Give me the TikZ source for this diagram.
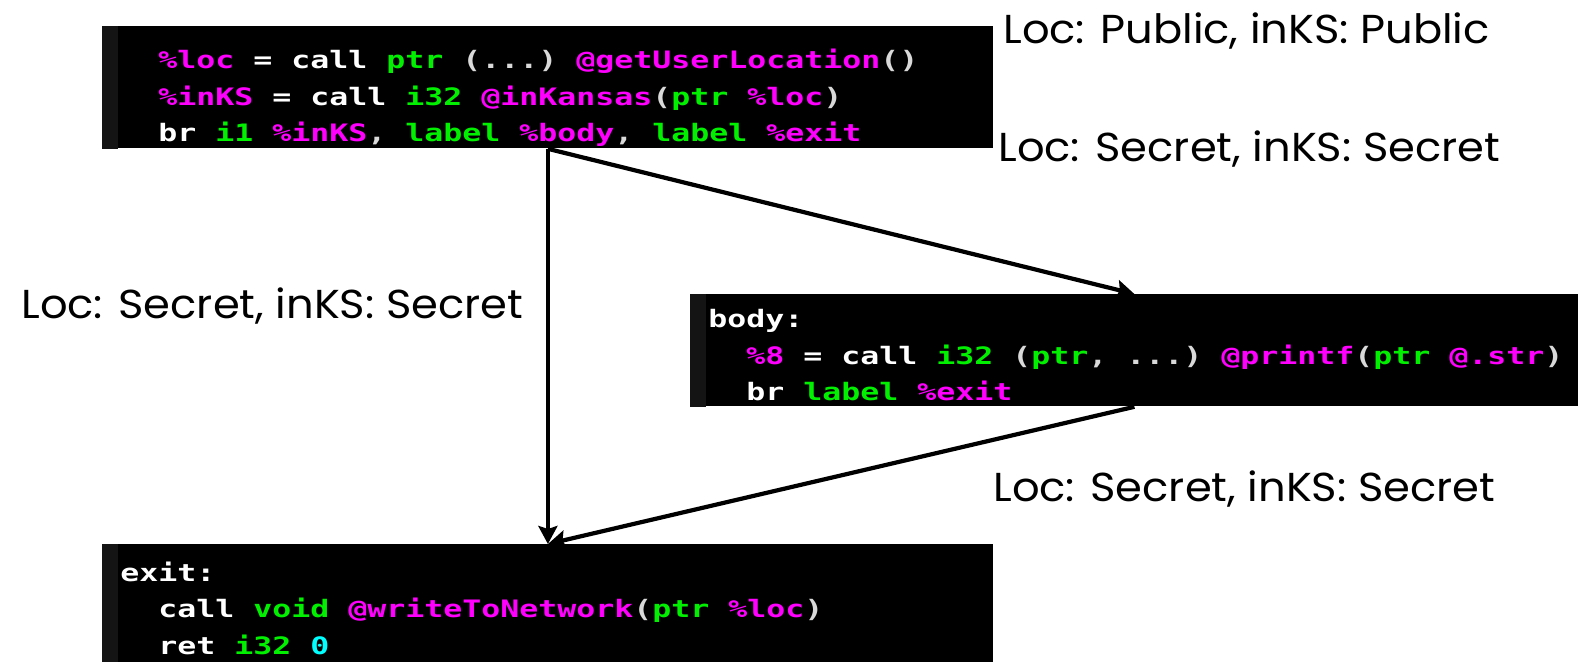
\documentclass[tikz,border=0pt]{standalone}
\usepackage{fontspec}
\usepackage{xcolor}
\usepackage{tikz}
\usetikzlibrary{calc,arrows.meta}
\newfontfamily\codefamily{DejaVu Sans Mono}[FakeStretch=1.315]
\newfontfamily\notefamily{Poppins}[FakeStretch=1.07]
\definecolor{irkw}{HTML}{FFFFFF}
\definecolor{irty}{HTML}{00F000}
\definecolor{irvar}{HTML}{FF00FF}
\definecolor{irpun}{HTML}{D9D9D9}
\definecolor{irnum}{HTML}{00FFFF}
\definecolor{gutter}{HTML}{141414}
\newcommand{\codefont}{\fontsize{12}{18.25}\selectfont\codefamily\bfseries}
\newcommand{\fixsp}{\spaceskip=\fontcharwd\font`\x\relax\xspaceskip=\spaceskip}
\newcommand{\notefont}{\fontsize{20.2}{24}\selectfont\notefamily}
\newcommand{\ind}{\phantom{xx}}
\newcommand{\ty}[1]{\textcolor{irty}{#1}}
\newcommand{\vr}[1]{\textcolor{irvar}{#1}}
\newcommand{\pn}[1]{\textcolor{irpun}{#1}}
\newcommand{\nm}[1]{\textcolor{irnum}{#1}}
\tikzset{
  block/.style={fill=black, draw=none, inner sep=0pt, anchor=north west},
  code/.style={text=irkw, font=\codefont, align=left, text width=460pt, inner sep=0pt,
    anchor=base west, execute at begin node=\fixsp},
  flow/.style={draw=black, line width=2.1pt, -{Stealth[length=9pt,width=9.5pt,inset=1.5pt]}},
  note/.style={text=black, font=\notefont, inner sep=0pt, anchor=base west},
}

\begin{document}
\begin{tikzpicture}[x=0.5pt,y=-0.5pt]
  \useasboundingbox[fill=white] (0,0) rectangle (1578,662);
  \node[block, minimum width=445.5pt, minimum height=61pt] (entry) at (102,26) {};
  \node[block, minimum width=444pt, minimum height=56pt] (body) at (690,294) {};
  \node[block, minimum width=445.5pt, minimum height=59pt] (exit) at (102,544) {};
  \foreach \B in {entry,body,exit}
    \fill[gutter] (\B.north west) rectangle ($(\B.south west)+(16,0)$);
  \node[code] (entrycode) at (120,69) {%
    \ind\vr{\%loc} = call \ty{ptr} \pn{(...)} \vr{@getUserLocation}\pn{()}\\
    \ind\vr{\%inKS} = call \ty{i32} \vr{@inKansas}\pn{(}\ty{ptr} \vr{\%loc}\pn{)}\\
    \ind br \ty{i1} \vr{\%inKS}\pn{,} \ty{label} \vr{\%body}\pn{,} \ty{label} \vr{\%exit}};
  \node[code] (bodycode) at (708,328) {%
    body:\\
    \ind\vr{\%8} = call \ty{i32} \pn{(}\ty{ptr}\pn{, ...)} \vr{@printf}\pn{(}\ty{ptr} \vr{@.str}\pn{)}\\
    \ind br \ty{label} \vr{\%exit}};
  \node[code] (exitcode) at (120,581) {%
    exit:\\
    \ind call \ty{void} \vr{@writeToNetwork}\pn{(}\ty{ptr} \vr{\%loc}\pn{)}\\
    \ind ret \ty{i32} \nm{0}};
  \foreach \A/\B in {entry/exit,entry/body,body/exit}
    \draw[flow] (\A.south) -- (\B.north);
  \node[note] (entryin) at (1003,44) {Loc: Public, inKS: Public};
  \node[note] (entryout) at (998,162) {Loc: Secret, inKS: Secret};
  \node[note] (toexit) at (21,319) {Loc: Secret, inKS: Secret};
  \node[note] (bodyout) at (993,501) {Loc: Secret, inKS: Secret};
\end{tikzpicture}
\end{document}
